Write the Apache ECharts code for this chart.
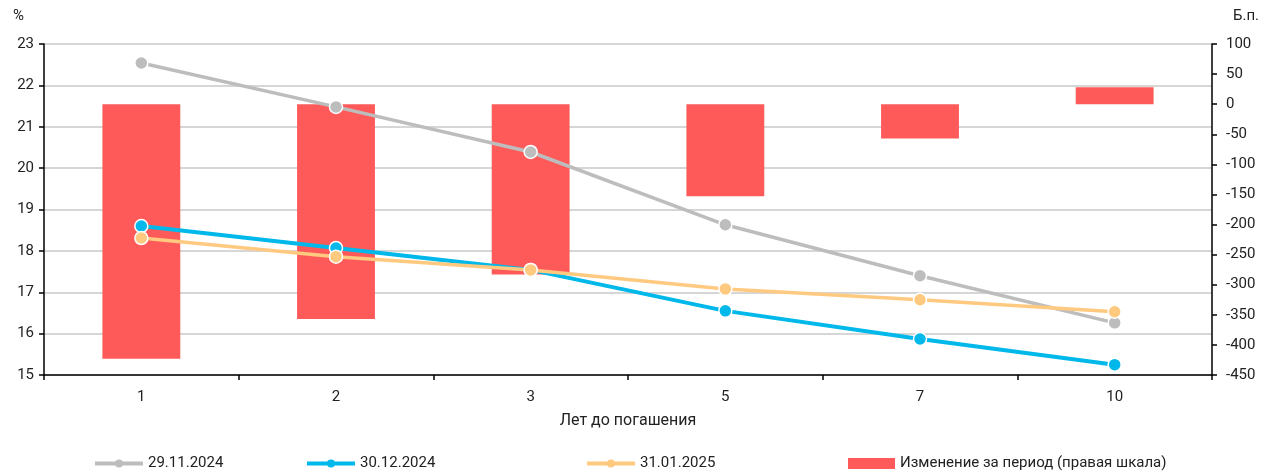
<!DOCTYPE html>
<html>
<head>
<meta charset="utf-8">
<script src="https://cdn.jsdelivr.net/npm/echarts@6/dist/echarts.min.js"></script>
<style>
  html, body { margin: 0; padding: 0; background: #fff; }
  #chart { width: 1271px; height: 471px; }
</style>
</head>
<body>
<div id="chart"></div>
<script>
// Years to maturity
const categories = ['1', '2', '3', '5', '7', '10'];
// Yields, %
const yields20241129 = [22.54, 21.48, 20.39, 18.63, 17.40, 16.26];
const yields20241230 = [18.60, 18.07, 17.54, 16.55, 15.87, 15.25];
const yields20250131 = [18.31, 17.86, 17.54, 17.08, 16.82, 16.53];
// Change over the period, basis points
const changeBp = [-423, -357, -283, -153, -57, 28];

const seriesNames = ['29.11.2024', '30.12.2024', '31.01.2025', 'Изменение за период (правая шкала)'];
const colors = { gray: '#BDBDBD', blue: '#00B8EA', orange: '#FFC97F', red: '#FF5A5A' };

const font = 'Roboto, "Open Sans", sans-serif';
const chart = echarts.init(document.getElementById('chart'));

function lineSeries(name, data, color, width, z) {
  return {
    name, type: 'line', data, yAxisIndex: 0, z,
    symbol: 'circle', symbolSize: 13,
    lineStyle: { color, width },
    itemStyle: { color, borderColor: '#fff', borderWidth: 1.5 },
    emphasis: { disabled: true }
  };
}

function lineLegend(left, name) {
  return {
    left, top: 451, itemWidth: 48, itemHeight: 10, itemGap: 6,
    data: [{ name, lineStyle: { width: 4 }, itemStyle: { borderWidth: 0 } }],
    textStyle: { fontFamily: font, fontSize: 15, color: '#222' },
    selectedMode: false
  };
}

chart.setOption({
  animation: false,
  textStyle: { fontFamily: font },
  grid: { left: 44, right: 59, top: 44, bottom: 96 },
  legend: [
    lineLegend(88, seriesNames[0]),
    lineLegend(300, seriesNames[1]),
    lineLegend(580, seriesNames[2]),
    {
      left: 843, top: 451, itemWidth: 47, itemHeight: 11, itemGap: 6,
      data: [{ name: seriesNames[3], icon: 'rect' }],
      textStyle: { fontFamily: font, fontSize: 15, color: '#222' },
      selectedMode: false
    }
  ],
  graphic: [
    { type: 'text', left: 13, top: 9, style: { text: '%', font: '15px ' + font, fill: '#222' } },
    { type: 'text', left: 1233, top: 9, style: { text: 'Б.п.', font: '15px ' + font, fill: '#222' } }
  ],
  xAxis: {
    type: 'category', data: categories, boundaryGap: true,
    name: 'Лет до погашения', nameLocation: 'middle', nameGap: 38,
    nameTextStyle: { fontSize: 16, color: '#222' },
    axisLine: { onZero: false, lineStyle: { color: '#000', width: 1.5 } },
    axisTick: { show: true, length: 5, lineStyle: { color: '#000', width: 1.5 } },
    axisLabel: { fontSize: 15, color: '#222', margin: 15 }
  },
  yAxis: [
    {
      type: 'value', min: 15, max: 23, interval: 1, position: 'left',
      axisLine: { show: true, lineStyle: { color: '#000', width: 1.5 } },
      axisTick: { show: true, length: 5, lineStyle: { color: '#000', width: 1.5 } },
      axisLabel: { fontSize: 15, color: '#222', margin: 10 },
      splitLine: { lineStyle: { color: '#C8C8C8', width: 1.5 } }
    },
    {
      type: 'value', min: -450, max: 100, interval: 50, position: 'right',
      axisLine: { show: true, lineStyle: { color: '#000', width: 1.5 } },
      axisTick: { show: true, length: 5, lineStyle: { color: '#000', width: 1.5 } },
      axisLabel: { fontSize: 15, color: '#222', margin: 14 },
      splitLine: { show: false }
    }
  ],
  series: [
    {
      name: seriesNames[3], type: 'bar', data: changeBp, yAxisIndex: 1, z: 1,
      barWidth: '40%',
      itemStyle: { color: colors.red },
      emphasis: { disabled: true }
    },
    lineSeries(seriesNames[0], yields20241129, colors.gray, 3.5, 3),
    lineSeries(seriesNames[1], yields20241230, colors.blue, 4, 4),
    lineSeries(seriesNames[2], yields20250131, colors.orange, 3.5, 5)
  ]
});
</script>
</body>
</html>
